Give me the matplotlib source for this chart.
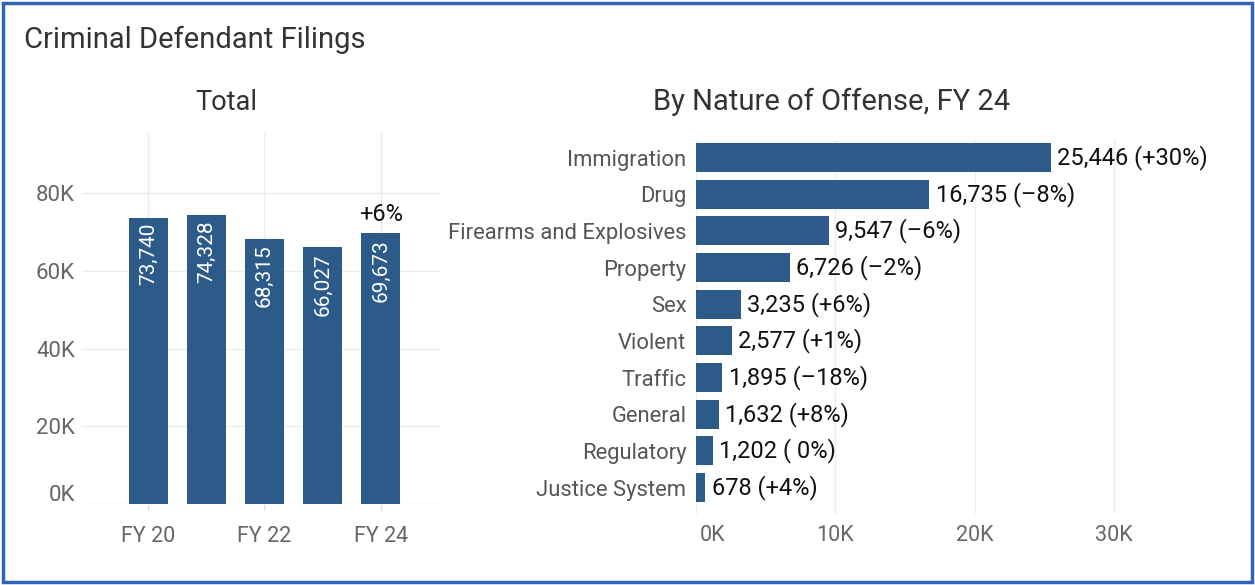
import matplotlib
matplotlib.use("Agg")
import matplotlib.pyplot as plt
from matplotlib.patches import Rectangle
from matplotlib.ticker import FuncFormatter
from matplotlib.transforms import ScaledTranslation

# ---------------------------------------------------------------------------
# data
# ---------------------------------------------------------------------------
years = ["FY 20", "FY 21", "FY 22", "FY 23", "FY 24"]
totals = [73740, 74328, 68315, 66027, 69673]
total_change_label = "+6%"

offenses = ["Immigration", "Drug", "Firearms and Explosives", "Property", "Sex",
            "Violent", "Traffic", "General", "Regulatory", "Justice System"]
offense_counts = [25446, 16735, 9547, 6726, 3235, 2577, 1895, 1632, 1202, 678]
offense_change = ["+30%", "\u20138%", "\u20136%", "\u20132%", "+6%",
                  "+1%", "\u201318%", "+8%", " 0%", "+4%"]

BAR = "#2d5b89"
GRID = "#ececec"
TICK = "#666666"
FONT = "Roboto"

plt.rcParams["font.family"] = [FONT, "DejaVu Sans"]

W, H = 1255, 585
fig = plt.figure(figsize=(W / 100, H / 100), dpi=100)


def box(x0, y0, x1, y1):
    """pixel box (top-left origin) -> figure fraction rect"""
    return [x0 / W, 1 - y1 / H, (x1 - x0) / W, (y1 - y0) / H]


def nudge(label, dx_px, dy_px):
    label.set_transform(label.get_transform()
                        + ScaledTranslation(dx_px / 100, dy_px / 100,
                                            fig.dpi_scale_trans))


# border
fig.patches.append(Rectangle((3 / W, 3 / H), (W - 6) / W, (H - 6) / H,
                             transform=fig.transFigure, fill=False,
                             edgecolor="#2f63b5", linewidth=2.5))

fig.text(24 / W, 1 - 40 / H, "Criminal Defendant Filings", fontsize=21,
         color="#333333", ha="left", va="center")

# ---------------------------------------------------------------------------
# left: totals
# ---------------------------------------------------------------------------
ax1 = fig.add_axes(box(82, 133, 440, 504))
x = list(range(len(years)))
ax1.bar(x, totals, width=0.67, color=BAR, zorder=3)
ax1.set_xlim(-1.14, 5.02)
ax1.set_ylim(0, 95500)
ax1.set_yticks([0, 20000, 40000, 60000, 80000])
ax1.yaxis.set_major_formatter(FuncFormatter(lambda v, p: f"{v / 1000:.0f}K"))
ax1.set_xticks([0, 2, 4])
ax1.set_xticklabels([years[0], years[2], years[4]])
ax1.grid(True, color=GRID, linewidth=1, zorder=0)
ax1.axhline(0, color="#bbbbbb", linewidth=0.8, linestyle=(0, (3, 3)), zorder=4)
for s in ax1.spines.values():
    s.set_visible(False)
ax1.tick_params(axis="y", length=0, pad=5, labelsize=16, labelcolor=TICK)
ax1.tick_params(axis="x", length=4, color="#dddddd", pad=12, labelsize=15.5,
                labelcolor=TICK)
nudge(ax1.get_yticklabels()[0], 0, 11)

for xi, v in zip(x, totals):
    ax1.annotate(f"{v:,}", (xi, v), xytext=(0, -4), textcoords="offset points",
                 rotation=90, ha="center", va="top", color="white",
                 fontsize=15, zorder=5)
ax1.annotate(total_change_label, (x[-1], totals[-1]), xytext=(0, 5),
             textcoords="offset points", ha="center", va="bottom",
             color="#111111", fontsize=17)

fig.text(226 / W, 1 - 102 / H, "Total", fontsize=19.5, color="#333333",
         ha="center", va="center")

# ---------------------------------------------------------------------------
# right: by nature of offense
# ---------------------------------------------------------------------------
ax2 = fig.add_axes(box(696, 140, 1170, 514))
y = list(range(len(offenses)))
ax2.barh(y, offense_counts, height=0.79, color=BAR, zorder=3)
ax2.set_ylim(9.72, -0.48)
ax2.set_xlim(0, 34000)
ax2.set_yticks(y)
ax2.set_yticklabels(offenses)
ax2.set_xticks([0, 10000, 20000, 30000])
ax2.xaxis.set_major_formatter(FuncFormatter(lambda v, p: f"{v / 1000:.0f}K"))
ax2.grid(True, axis="x", color=GRID, linewidth=1, zorder=0)
for s in ax2.spines.values():
    s.set_visible(False)
ax2.tick_params(axis="y", length=0, pad=7, labelsize=15.8, labelcolor="#555555")
ax2.tick_params(axis="x", length=0, pad=8, labelsize=15.5, labelcolor=TICK)
first = ax2.get_xticklabels()[0]
first.set_horizontalalignment("left")
nudge(first, 4, 0)

for yi, v, c in zip(y, offense_counts, offense_change):
    ax2.annotate(f"{v:,} ({c})", (v, yi), xytext=(4.5, 0),
                 textcoords="offset points", ha="left", va="center",
                 color="#111111", fontsize=17, zorder=5)

fig.text(832 / W, 1 - 102 / H, "By Nature of Offense, FY 24", fontsize=21,
         color="#333333", ha="center", va="center")

fig.savefig("out.png", dpi=100)
